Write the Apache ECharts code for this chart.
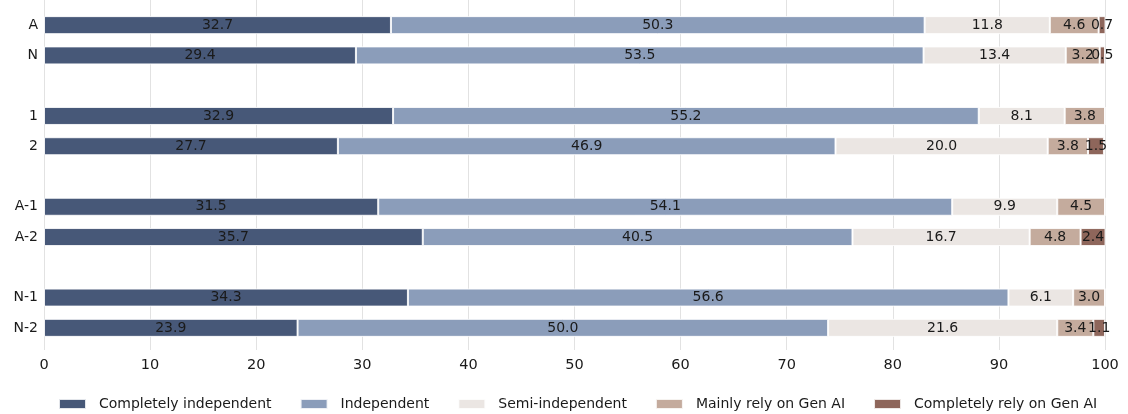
<!DOCTYPE html>
<html><head><meta charset="utf-8">
<script src="https://cdn.jsdelivr.net/npm/echarts@6/dist/echarts.min.js"></script>
<style>html,body{margin:0;padding:0;background:#fff}#c{width:1128px;height:414px}</style>
</head><body><div id="c"></div>
<script>
const categories = ['A','N','','1','2','','A-1','A-2','','N-1','N-2'];
const seriesNames = ['Completely independent','Independent','Semi-independent','Mainly rely on Gen AI','Completely rely on Gen AI'];
const completelyIndependent = [32.7,29.4,null,32.9,27.7,null,31.5,35.7,null,34.3,23.9];
const independent           = [50.3,53.5,null,55.2,46.9,null,54.1,40.5,null,56.6,50.0];
const semiIndependent       = [11.8,13.4,null,8.1,20.0,null,9.9,16.7,null,6.1,21.6];
const mainlyRely            = [4.6,3.2,null,3.8,3.8,null,4.5,4.8,null,3.0,3.4];
const completelyRely        = [0.7,0.5,null,0,1.5,null,0,2.4,null,0,1.1];
const xTicks = [0,10,20,30,40,50,60,70,80,90,100];
const colors = ['#475878','#8b9dba','#ebe6e3','#c4ab9d','#8e665b'];
const allValues = [completelyIndependent, independent, semiIndependent, mainlyRely, completelyRely];

const font = 'DejaVu Sans';
const chart = echarts.init(document.getElementById('c'));
chart.setOption({
  animation:false,
  color:colors,
  textStyle:{fontFamily:font},
  legend:{
    top:392, left:53, itemWidth:27, itemHeight:10, itemGap:28,
    textStyle:{fontFamily:font,fontSize:14,color:'#1a1a1a',padding:[0,0,0,8]},
    data:seriesNames, icon:'rect'
  },
  grid:[
    {left:44,right:23,top:10,height:333},
    {left:44,right:23,top:0,height:350}
  ],
  xAxis:[
    {gridIndex:0,type:'value',min:xTicks[0],max:xTicks[xTicks.length-1],interval:10,
     axisLabel:{show:false},splitLine:{show:false},axisLine:{show:false},axisTick:{show:false}},
    {gridIndex:1,type:'value',min:xTicks[0],max:xTicks[xTicks.length-1],interval:10,
     axisLabel:{show:true,fontFamily:font,fontSize:14.5,color:'#1a1a1a',margin:8},
     splitLine:{show:true,lineStyle:{color:'#e2e2e2',width:1}},
     axisLine:{show:false},axisTick:{show:false}}
  ],
  yAxis:[
    {gridIndex:0,type:'category',data:categories,inverse:true,
     axisLine:{show:false},axisTick:{show:false},
     axisLabel:{fontFamily:font,fontSize:14,color:'#1a1a1a',margin:6}},
    {gridIndex:1,type:'category',data:[''],show:false}
  ],
  series: seriesNames.map((name,i)=>({
    name, type:'bar', stack:'total', xAxisIndex:0, yAxisIndex:0,
    barWidth:18,
    data: allValues[i],
    itemStyle:{color:colors[i],borderColor:'rgba(255,255,255,0.85)',borderWidth:1},
    label:{show:true,position:'inside',color:'#1a1a1a',fontFamily:font,fontSize:14,
      formatter:p=> (p.value && p.value>0) ? p.value.toFixed(1) : ''}
  }))
});
</script></body></html>
